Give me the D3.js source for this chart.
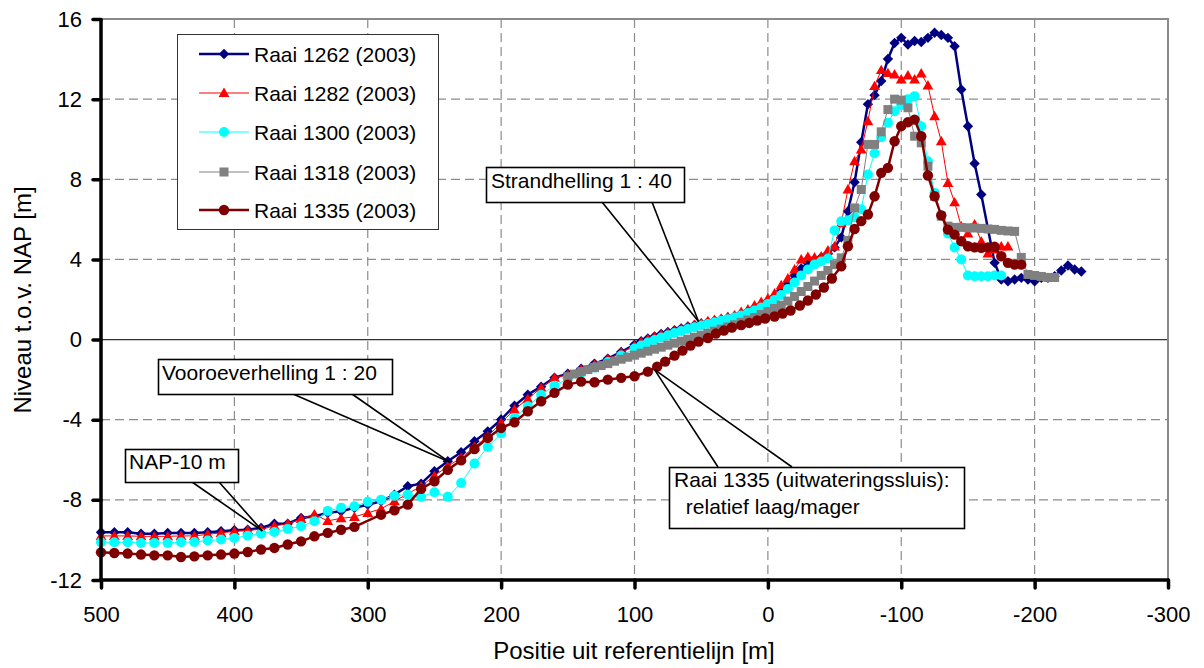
<!DOCTYPE html>
<html>
<head>
<meta charset="utf-8">
<script src="https://cdn.jsdelivr.net/npm/d3@7"></script>
<style>
  html, body { margin: 0; padding: 0; background: #fff; }
  svg { display: block; font-family: "Liberation Sans", Arial, sans-serif; }
</style>
</head>
<body>
<svg id="chart" width="1204" height="668"></svg>
<script>
// Axis ticks
const xTicks = [500, 400, 300, 200, 100, 0, -100, -200, -300];
const yTicks = [-12, -8, -4, 0, 4, 8, 12, 16];

// Raai 1262 (2003)
const pos1262 = [500,490,480,470,460,450,440,430,420,410,400,390,380,370,360,350,340,330,320,310,300,290,280,270,260,250,240,230,220,210,200,190,180,170,160,150,140,130,120,110,100,
  95,90,85,80,75,70,65,60,55,50,45,40,35,30,25,20,15,10,5,0,-5,-10,-15,-20,-25,-30,-35,-40,-45,-50,-55,-60,-65,-70,-75,-80,-85,-90,-95,-100,-105,-110,-115,-120,-125,-130,-135,-140,-145,-150,-155,-160,
  -170,-175,-180,-185,-190,-195,-200,-205,-210,-215,-220,-225,-230,-235];
const lvl1262 = [-9.62,-9.62,-9.62,-9.69,-9.69,-9.65,-9.65,-9.65,-9.62,-9.57,-9.52,-9.49,-9.40,-9.19,-9.19,-8.90,-8.82,-8.65,-8.57,-8.40,-8.24,-8.07,-7.74,-7.32,-7.19,-6.57,-6.07,-5.62,-5.07,-4.58,-3.99,-3.30,-2.75,-2.35,-1.90,-1.70,-1.46,-1.20,-0.95,-0.62,-0.25,
  -0.08,0.05,0.15,0.28,0.38,0.47,0.56,0.65,0.73,0.80,0.88,0.95,1.02,1.10,1.18,1.30,1.42,1.58,1.75,1.92,2.15,2.45,2.80,3.20,3.55,3.80,3.95,4.10,4.30,4.60,5.10,6.40,7.85,9.85,11.75,12.20,12.90,14.00,14.80,15.06,14.73,14.90,14.85,15.06,15.31,15.20,15.06,14.64,12.48,10.65,8.79,7.24,
  3.83,3.00,2.91,3.00,3.08,3.00,2.91,3.08,3.08,3.16,3.45,3.70,3.50,3.40];

// Raai 1282 (2003)
const pos1282 = [500,490,480,470,460,450,440,430,420,410,400,390,380,370,360,350,340,330,320,310,300,290,280,270,260,250,240,230,220,210,200,190,180,170,160,150,140,130,120,110,100,
  95,90,85,80,75,70,65,60,55,50,45,40,35,30,25,20,15,10,5,0,-5,-10,-15,-20,-25,-30,-35,-40,-45,-50,-55,-60,-65,-70,-75,-80,-85,-90,-95,-100,-105,-110,-115,-120,-125,-130,-135,-140,-145,-150,-155,-160,-165,-170,-175,-180];
const lvl1282 = [-9.80,-9.80,-9.80,-9.82,-9.82,-9.82,-9.80,-9.80,-9.72,-9.65,-9.57,-9.52,-9.47,-9.30,-9.20,-8.95,-8.72,-9.05,-8.92,-8.85,-8.65,-8.45,-8.07,-7.70,-7.32,-6.80,-6.32,-5.90,-5.36,-4.83,-4.16,-3.49,-2.96,-2.41,-1.91,-1.75,-1.50,-1.25,-0.98,-0.65,-0.30,
  -0.12,0.02,0.13,0.25,0.35,0.45,0.55,0.65,0.73,0.82,0.92,0.98,1.05,1.13,1.21,1.38,1.50,1.71,1.88,2.05,2.30,2.71,3.05,3.50,4.00,4.13,4.10,4.15,4.45,4.65,5.80,7.49,8.90,9.49,10.90,12.65,13.45,13.30,13.23,12.98,13.18,12.98,13.28,12.68,11.15,9.90,7.82,6.85,5.65,5.30,5.75,4.90,4.30,4.50,4.65,4.65];

// Raai 1300 (2003)
const pos1300 = [500,490,480,470,460,450,440,430,420,410,400,390,380,370,360,350,340,330,320,310,300,290,280,270,260,250,240,230,220,210,200,190,180,170,160,150,140,130,120,110,100,
  95,90,85,80,75,70,65,60,55,50,45,40,35,30,25,20,15,10,5,0,-5,-10,-15,-20,-25,-30,-35,-40,-45,-50,-55,-60,-65,-70,-75,-80,-85,-90,-95,-100,-105,-110,-115,-120,-125,-130,-135,-140,-145,-150,-155,-160,-165,-170,-175];
const lvl1300 = [-10.12,-10.12,-10.12,-10.15,-10.15,-10.15,-10.12,-10.10,-10.03,-9.98,-9.90,-9.79,-9.69,-9.60,-9.45,-9.32,-9.07,-8.55,-8.40,-8.32,-8.10,-7.99,-7.80,-7.74,-7.85,-7.62,-7.85,-7.16,-6.19,-5.36,-4.69,-3.91,-3.33,-2.75,-2.30,-1.95,-1.65,-1.40,-1.12,-0.80,-0.45,
  -0.30,-0.15,-0.02,0.10,0.22,0.33,0.43,0.53,0.62,0.70,0.78,0.86,0.94,1.02,1.10,1.20,1.32,1.45,1.60,1.78,1.98,2.22,2.52,2.85,3.20,3.50,3.75,3.90,4.05,5.45,5.90,5.95,6.10,6.50,8.24,9.30,10.10,10.82,11.40,11.70,12.00,12.15,10.65,8.90,7.32,6.20,5.30,4.60,4.00,3.20,3.16,3.16,3.16,3.20,3.20];

// Raai 1318 (2003)
const pos1318 = [150,145,140,135,130,125,120,115,110,105,100,95,90,85,80,75,70,65,60,55,50,45,40,35,30,25,20,15,10,5,0,-5,-10,-15,-20,-25,-30,-35,-40,-45,-50,-55,-60,-65,-70,-75,-80,-85,-90,-95,-100,-105,-110,-115,-120,-125,-130,-135,-140,-145,-150,-155,-160,-165,-170,-175,-180,-185,-190,-195,-200,-205,-210,-215];
const lvl1318 = [-1.85,-1.72,-1.60,-1.50,-1.40,-1.30,-1.20,-1.08,-0.98,-0.88,-0.78,-0.68,-0.58,-0.48,-0.38,-0.28,-0.18,-0.08,0.02,0.12,0.22,0.32,0.42,0.52,0.63,0.74,0.86,0.98,1.10,1.25,1.40,1.55,1.72,1.92,2.15,2.40,2.65,2.92,3.20,3.45,3.74,4.08,4.95,6.57,7.49,9.74,9.74,10.37,11.48,12.00,11.95,11.57,10.15,9.82,8.65,7.15,6.16,5.66,5.60,5.60,5.58,5.57,5.55,5.52,5.50,5.45,5.42,5.40,4.10,3.25,3.20,3.15,3.10,3.10];

// Raai 1335 (2003)
const pos1335 = [500,490,480,470,460,450,440,430,420,410,400,390,380,370,360,350,340,330,320,310,290,280,270,260,250,240,230,220,210,200,190,180,170,160,150,140,130,120,110,100,90,
  83,77,70,64,58,52,45,39,33,27,20,14,8,2,-5,-11,-17,-24,-30,-36,-42,-48,
  -55,-60,-65,-70,-75,-80,-85,-90,-95,-100,-105,-110,-115,-120,-125,-130,-135,-140,-145,-150,-155,-160,-165,-170,-175,-180,-185,-190];
const lvl1335 = [-10.62,-10.65,-10.68,-10.73,-10.77,-10.77,-10.85,-10.82,-10.77,-10.73,-10.68,-10.60,-10.48,-10.40,-10.23,-10.07,-9.82,-9.65,-9.49,-9.35,-8.74,-8.52,-8.24,-7.45,-7.07,-6.50,-6.03,-5.46,-4.91,-4.41,-4.13,-3.58,-3.08,-2.66,-2.25,-2.10,-2.13,-2.00,-1.91,-1.83,-1.60,
  -1.35,-1.10,-0.80,-0.55,-0.30,-0.10,0.08,0.30,0.45,0.60,0.72,0.83,0.95,1.05,1.15,1.30,1.45,1.70,1.95,2.25,2.60,3.05,
  3.66,4.66,5.52,5.91,6.24,7.15,8.32,8.57,9.90,10.65,10.85,10.98,10.15,8.19,7.15,6.20,5.49,5.24,4.91,4.66,4.60,4.58,4.60,4.63,4.16,3.83,3.74,3.74];

const seriesNames = ["Raai 1262 (2003)", "Raai 1282 (2003)", "Raai 1300 (2003)", "Raai 1318 (2003)", "Raai 1335 (2003)"];

// Plot frame
const plotL = 101, plotR = 1168, plotT = 19, plotB = 580;
const x = d3.scaleLinear().domain([500, -300]).range([plotL, plotR]);
const y = d3.scaleLinear().domain([-12, 16]).range([plotB, plotT]);

const svg = d3.select("#chart");
const FONT = 21;
const fmt = d => String(d);   // plain hyphen-minus for negative labels

// Marker shapes
const markerPaths = {
  diamond: "M0,-5.2L5.2,0L0,5.2L-5.2,0Z",
  triangle: "M0,-5.4L5.4,4L-5.4,4Z",
  circle: d3.symbol().type(d3.symbolCircle).size(Math.PI * 5 * 5)(),
  square: "M-4.5,-4.5H4.5V4.5H-4.5Z",
  bigcircle: d3.symbol().type(d3.symbolCircle).size(Math.PI * 5.2 * 5.2)()
};

const series = [
  { name: seriesNames[0], pos: pos1262, lvl: lvl1262, color: "#000080", width: 2.5, marker: "diamond" },
  { name: seriesNames[1], pos: pos1282, lvl: lvl1282, color: "#FF0000", width: 1, marker: "triangle" },
  { name: seriesNames[2], pos: pos1300, lvl: lvl1300, color: "#00FFFF", width: 1, marker: "circle" },
  { name: seriesNames[3], pos: pos1318, lvl: lvl1318, color: "#808080", width: 1, marker: "square" },
  { name: seriesNames[4], pos: pos1335, lvl: lvl1335, color: "#800000", width: 2.5, marker: "bigcircle" }
];

// Grid lines
const grid = svg.append("g");
grid.selectAll("line.vx").data(xTicks.filter(d => d !== 500 && d !== -300)).join("line")
  .attr("x1", d => x(d)).attr("x2", d => x(d)).attr("y1", plotT).attr("y2", plotB)
  .attr("stroke", "#8c8c8c").attr("stroke-width", 1.2).attr("stroke-dasharray", "9,5");
grid.selectAll("line.hy").data(yTicks.filter(d => d !== -12 && d !== 16 && d !== 0)).join("line")
  .attr("x1", plotL).attr("x2", plotR).attr("y1", d => y(d)).attr("y2", d => y(d))
  .attr("stroke", "#8c8c8c").attr("stroke-width", 1.2).attr("stroke-dasharray", "9,5");
// NAP reference level
grid.append("line").attr("x1", plotL).attr("x2", plotR).attr("y1", y(0)).attr("y2", y(0))
  .attr("stroke", "#333").attr("stroke-width", 1.3);
// Top and right frame
grid.append("path")
  .attr("d", `M${plotL},${plotT}H${plotR}V${plotB}`)
  .attr("fill", "none").attr("stroke", "#8a8a8a").attr("stroke-width", 2);

// Profiles
const line = d3.line().x(d => x(d[0])).y(d => y(d[1]));
const plot = svg.append("g");
series.forEach(s => {
  const pts = s.pos.map((p, i) => [p, s.lvl[i]]);
  const g = plot.append("g");
  g.append("path").attr("d", line(pts)).attr("fill", "none")
    .attr("stroke", s.color).attr("stroke-width", s.width).attr("stroke-linejoin", "round");
  g.selectAll("path.m").data(pts).join("path")
    .attr("d", markerPaths[s.marker])
    .attr("transform", d => `translate(${x(d[0])},${y(d[1])})`)
    .attr("fill", s.color);
});

// Axes
const yAxis = d3.axisLeft(y).tickValues(yTicks).tickSize(8).tickSizeOuter(0).tickPadding(11).tickFormat(fmt);
const gy = svg.append("g").attr("transform", `translate(${plotL},0)`).call(yAxis);
const xAxis = d3.axisBottom(x).tickValues(xTicks).tickSize(8).tickSizeOuter(0).tickFormat(fmt);
const gx = svg.append("g").attr("transform", `translate(0,${plotB})`).call(xAxis);
[gx, gy].forEach(g => {
  g.select(".domain").attr("stroke", "#000").attr("stroke-width", 3.5);
  g.selectAll(".tick line").attr("stroke", "#000").attr("stroke-width", 3.5).attr("stroke-linecap", "round");
  g.selectAll(".tick text").attr("font-size", 22).attr("font-family", "Liberation Sans, Arial, sans-serif").attr("fill", "#000");
});
gx.selectAll(".tick text").attr("dy", null).attr("y", 42);
// extend the axis lines to meet at the corner
gy.select(".domain").attr("d", `M0,${plotT}V${plotB + 1.5}`);
gx.select(".domain").attr("d", `M${plotL - 1.5},0H${plotR + 1}`);

// Axis titles
svg.append("text").attr("x", 634).attr("y", 659).attr("text-anchor", "middle")
  .attr("font-size", 24).text("Positie uit referentielijn [m]");
svg.append("text").attr("transform", "translate(31,300) rotate(-90)").attr("text-anchor", "middle")
  .attr("font-size", 24).text("Niveau t.o.v. NAP [m]");

// Callouts
const callouts = [
  { lines: ["Strandhelling 1 : 40"], target: [52, 0.9], box: [486, 167, 198, 35], text: [[491, 188]], bases: [[602, 202], [652, 202]] },
  { lines: ["Vooroeverhelling 1 : 20"], target: [239, -6.1], box: [158, 359, 234, 35], text: [[162, 380]], bases: [[293, 394], [352, 394]] },
  { lines: ["NAP-10 m"], target: [379, -9.55], box: [125, 449, 113, 33], text: [[129, 469]], bases: [[192, 482], [219, 482]] },
  { lines: ["Raai 1335 (uitwateringssluis):", " relatief laag/mager"], target: [85, -1.5], box: [669, 467, 295, 61], text: [[674, 487], [680, 514]], bases: [[718, 467], [792, 467]] }
];
const co = svg.append("g");
callouts.forEach(c => {
  const tx = x(c.target[0]), ty = y(c.target[1]);
  c.bases.forEach(b => {
    co.append("line").attr("x1", b[0]).attr("y1", b[1]).attr("x2", tx).attr("y2", ty)
      .attr("stroke", "#000").attr("stroke-width", 1.6);
  });
  co.append("rect").attr("x", c.box[0] + 0.5).attr("y", c.box[1] + 0.5).attr("width", c.box[2]).attr("height", c.box[3])
    .attr("fill", "#fff").attr("stroke", "#000").attr("stroke-width", 1.6);
  c.lines.forEach((t, i) => {
    co.append("text").attr("x", c.text[i][0]).attr("y", c.text[i][1]).attr("font-size", FONT)
      .style("white-space", "pre").text(t);
  });
});

// Legend
const lg = svg.append("g");
lg.append("rect").attr("x", 177.5).attr("y", 34.5).attr("width", 261).attr("height", 195)
  .attr("fill", "#fff").attr("stroke", "#333").attr("stroke-width", 1);
const legendRows = [54, 93, 132, 172, 210];
series.forEach((s, i) => {
  const ry = legendRows[i];
  lg.append("line").attr("x1", 199).attr("x2", 249).attr("y1", ry).attr("y2", ry)
    .attr("stroke", s.color).attr("stroke-width", s.width);
  lg.append("path").attr("d", markerPaths[s.marker]).attr("transform", `translate(224,${ry})`).attr("fill", s.color);
  lg.append("text").attr("x", 254).attr("y", ry).attr("dy", "0.36em").attr("font-size", FONT).text(s.name);
});
</script>
</body>
</html>
